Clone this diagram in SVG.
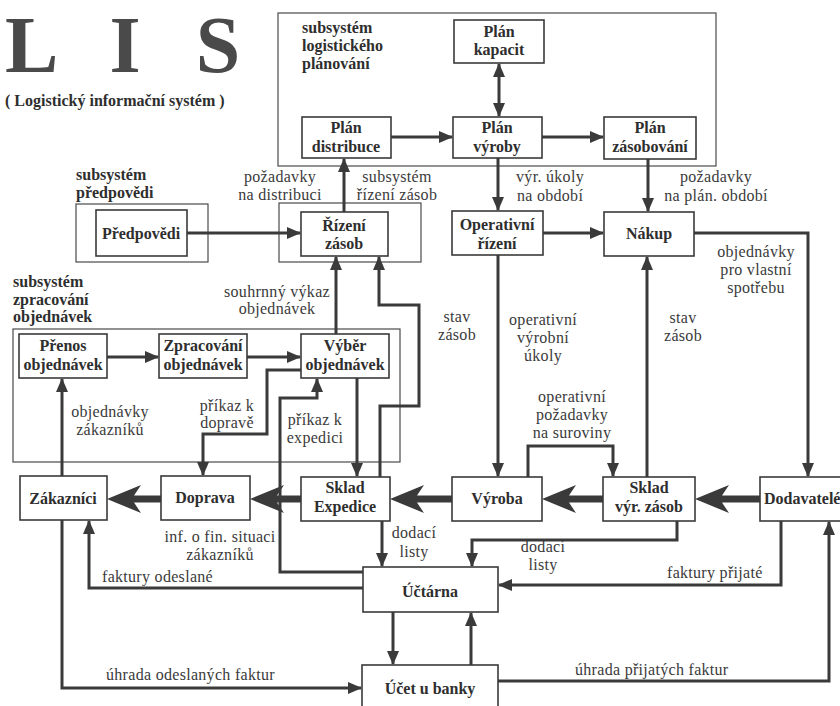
<svg xmlns="http://www.w3.org/2000/svg" width="840" height="706" viewBox="0 0 840 706">
<style>
.bg{fill:#ffffff}
.box{fill:#ffffff;stroke:#3a3a3a;stroke-width:1.6}
.sub{fill:none;stroke:#4a4a4a;stroke-width:1.2}
.bt{font-family:"Liberation Serif","DejaVu Serif",serif;font-weight:bold;font-size:16px;fill:#2e2e2e;text-anchor:middle}
.st{font-family:"Liberation Serif","DejaVu Serif",serif;font-weight:bold;font-size:16px;fill:#2e2e2e}
.lb{font-family:"Liberation Serif","DejaVu Serif",serif;font-size:16px;fill:#3a3a3a;text-anchor:middle;letter-spacing:0.3px}
.ls{font-family:"Liberation Serif","DejaVu Serif",serif;font-size:16px;fill:#3a3a3a;letter-spacing:0.3px}
.big{font-family:"Liberation Serif","DejaVu Serif",serif;font-weight:bold;font-size:80px;fill:#4a4a4a}
.c{fill:none;stroke:#3a3a3a;stroke-width:3;marker-end:url(#ah)}
.c2{fill:none;stroke:#3a3a3a;stroke-width:3;marker-end:url(#ah);marker-start:url(#ah)}
.ba{fill:#3a3a3a;stroke:none}
</style>
<defs>
<marker id="ah" markerUnits="userSpaceOnUse" markerWidth="14" markerHeight="12" refX="13" refY="6" orient="auto-start-reverse" viewBox="0 0 14 12">
<path d="M0,0 L14,6 L0,12 z" fill="#3a3a3a"/>
</marker>
</defs>
<rect class="bg" x="0" y="0" width="840" height="706"/>

<g id="title">
<text class="big" x="5" y="72">L</text>
<text class="big" x="125" y="72" text-anchor="middle">I</text>
<text class="big" x="218" y="72" text-anchor="middle">S</text>
<text class="st" x="5" y="106">( Logistický informační systém )</text>
</g>

<g id="subsystems">
<rect class="sub" x="278" y="13" width="438" height="153"/>
<text class="st" x="302" y="33">subsystém</text>
<text class="st" x="302" y="51">logistického</text>
<text class="st" x="302" y="69">plánování</text>
<rect class="sub" x="76" y="204" width="132" height="58"/>
<text class="st" x="76" y="180">subsystém</text>
<text class="st" x="76" y="198">předpovědi</text>
<rect class="sub" x="279" y="203" width="142" height="59"/>
<rect class="sub" x="13" y="329" width="387" height="133"/>
<text class="st" x="13" y="287">subsystém</text>
<text class="st" x="13" y="305">zpracování</text>
<text class="st" x="13" y="322">objednávek</text>
</g>

<g id="connectors">
<path class="c2" d="M499,64 V116"/>
<path class="c" d="M391,137 H452"/>
<path class="c" d="M542,137 H603"/>
<path class="c" d="M498,158 V210"/>
<path class="c" d="M648,159 V211"/>
<path class="c" d="M543,233 H603"/>
<path class="c" d="M694,233 H808 V476"/>
<path class="c" d="M344,212 V159"/>
<path class="c" d="M187,233 H300"/>
<path class="c" d="M336,334 V257"/>
<path class="c" d="M380,477 V406 H419 V305 H379 V257"/>
<path class="c" d="M357,378 V476"/>
<path class="c" d="M301,370 H267 V434 H203 V475"/>
<path class="c" d="M363,572 H280 V398 H317 V379"/>
<path class="c" d="M247,357 H300"/>
<path class="c" d="M107,357 H158"/>
<path class="c" d="M62,476 V379"/>
<path class="c" d="M498,255 V476"/>
<path class="c" d="M647,477 V257"/>
<path class="c" d="M528,477 V446 H613 V476"/>
<path class="c" d="M382,521 V566"/>
<path class="c" d="M677,521 V540 H472 V566"/>
<path class="c" d="M781,521 V585 H499"/>
<path class="c" d="M363,588 H89 V521"/>
<path class="c" d="M62,520 V688 H361"/>
<path class="c" d="M393,612 V664"/>
<path class="c" d="M471,665 V613"/>
<path class="c" d="M498,681 H829 V522"/>
<path class="ba" d="M695,499 L729,485 L722,495.5 L760,495.5 L760,502.5 L722,502.5 L729,513 Z"/>
<path class="ba" d="M542,499 L576,485 L569,495.5 L603,495.5 L603,502.5 L569,502.5 L576,513 Z"/>
<path class="ba" d="M390,499 L424,485 L417,495.5 L452,495.5 L452,502.5 L417,502.5 L424,513 Z"/>
<path class="ba" d="M250,499 L284,485 L277,495.5 L301,495.5 L301,502.5 L277,502.5 L284,513 Z"/>
<path class="ba" d="M107,499 L141,485 L134,495.5 L161,495.5 L161,502.5 L134,502.5 L141,513 Z"/>
</g>

<g id="labels">
<text class="lb" x="280" y="182">požadavky</text>
<text class="lb" x="280" y="200">na distribuci</text>
<text class="lb" x="397" y="182">subsystém</text>
<text class="lb" x="397" y="200">řízení zásob</text>
<text class="lb" x="550" y="182">výr. úkoly</text>
<text class="lb" x="550" y="201">na období</text>
<text class="lb" x="716" y="182">požadavky</text>
<text class="lb" x="716" y="201">na plán. období</text>
<text class="lb" x="756" y="257">objednávky</text>
<text class="lb" x="756" y="275">pro vlastní</text>
<text class="lb" x="756" y="293">spotřebu</text>
<text class="lb" x="277" y="297">souhrnný výkaz</text>
<text class="lb" x="277" y="314">objednávek</text>
<text class="lb" x="457" y="322">stav</text>
<text class="lb" x="457" y="340">zásob</text>
<text class="lb" x="543" y="325">operativní</text>
<text class="lb" x="543" y="343">výrobní</text>
<text class="lb" x="543" y="361">úkoly</text>
<text class="lb" x="683" y="323">stav</text>
<text class="lb" x="683" y="341">zásob</text>
<text class="lb" x="572" y="402">operativní</text>
<text class="lb" x="572" y="420">požadavky</text>
<text class="lb" x="572" y="438">na suroviny</text>
<text class="lb" x="227" y="411">příkaz k</text>
<text class="lb" x="227" y="428">dopravě</text>
<text class="lb" x="315" y="425">příkaz k</text>
<text class="lb" x="315" y="443">expedici</text>
<text class="lb" x="110" y="417">objednávky</text>
<text class="lb" x="110" y="435">zákazníků</text>
<text class="lb" x="220" y="542">inf. o fin. situaci</text>
<text class="lb" x="220" y="560">zákazníků</text>
<text class="lb" x="414" y="538">dodací</text>
<text class="lb" x="414" y="557">listy</text>
<text class="lb" x="543" y="552">dodací</text>
<text class="lb" x="543" y="570">listy</text>
<text class="ls" x="102" y="582">faktury odeslané</text>
<text class="ls" x="667" y="578">faktury přijaté</text>
<text class="ls" x="106" y="680">úhrada odeslaných faktur</text>
<text class="ls" x="575" y="675">úhrada přijatých faktur</text>
</g>

<g id="plan-kapacit"><rect class="box" x="454" y="20" width="90" height="43"/><text class="bt" x="499" y="37">Plán</text><text class="bt" x="499" y="55">kapacit</text></g>
<g id="plan-distribuce"><rect class="box" x="302" y="117" width="89" height="41"/><text class="bt" x="346" y="133">Plán</text><text class="bt" x="346" y="152">distribuce</text></g>
<g id="plan-vyroby"><rect class="box" x="453" y="117" width="89" height="41"/><text class="bt" x="497" y="133">Plán</text><text class="bt" x="497" y="152">výroby</text></g>
<g id="plan-zasobovani"><rect class="box" x="604" y="117" width="92" height="42"/><text class="bt" x="650" y="133">Plán</text><text class="bt" x="650" y="152">zásobování</text></g>
<g id="operativni-rizeni"><rect class="box" x="452" y="211" width="91" height="44"/><text class="bt" x="497" y="230">Operativní</text><text class="bt" x="497" y="249">řízení</text></g>
<g id="nakup"><rect class="box" x="604" y="212" width="90" height="44"/><text class="bt" x="649" y="239">Nákup</text></g>
<g id="predpovedi"><rect class="box" x="96" y="210" width="91" height="46"/><text class="bt" x="141" y="239">Předpovědi</text></g>
<g id="rizeni-zasob"><rect class="box" x="301" y="212" width="87" height="44"/><text class="bt" x="344" y="231">Řízení</text><text class="bt" x="344" y="249">zásob</text></g>
<g id="prenos"><rect class="box" x="19" y="334" width="88" height="44"/><text class="bt" x="63" y="351">Přenos</text><text class="bt" x="63" y="370">objednávek</text></g>
<g id="zpracovani"><rect class="box" x="159" y="334" width="88" height="44"/><text class="bt" x="203" y="351">Zpracování</text><text class="bt" x="203" y="370">objednávek</text></g>
<g id="vyber"><rect class="box" x="301" y="334" width="88" height="44"/><text class="bt" x="345" y="351">Výběr</text><text class="bt" x="345" y="370">objednávek</text></g>
<g id="zakaznici"><rect class="box" x="20" y="476" width="87" height="44"/><text class="bt" x="63" y="504">Zákazníci</text></g>
<g id="doprava"><rect class="box" x="161" y="476" width="89" height="44"/><text class="bt" x="205" y="503">Doprava</text></g>
<g id="sklad-expedice"><rect class="box" x="301" y="477" width="89" height="44"/><text class="bt" x="345" y="493">Sklad</text><text class="bt" x="345" y="512">Expedice</text></g>
<g id="vyroba"><rect class="box" x="452" y="477" width="90" height="44"/><text class="bt" x="497" y="504">Výroba</text></g>
<g id="sklad-vyr-zasob"><rect class="box" x="603" y="477" width="92" height="44"/><text class="bt" x="649" y="493">Sklad</text><text class="bt" x="649" y="512">výr. zásob</text></g>
<g id="dodavatele"><rect class="box" x="760" y="477" width="90" height="44"/><text class="st" x="764" y="504">Dodavatelé</text></g>
<g id="uctarna"><rect class="box" x="363" y="567" width="135" height="45"/><text class="bt" x="430" y="597">Účtárna</text></g>
<g id="ucet-u-banky"><rect class="box" x="362" y="665" width="136" height="42"/><text class="bt" x="430" y="694">Účet u banky</text></g>
</svg>
